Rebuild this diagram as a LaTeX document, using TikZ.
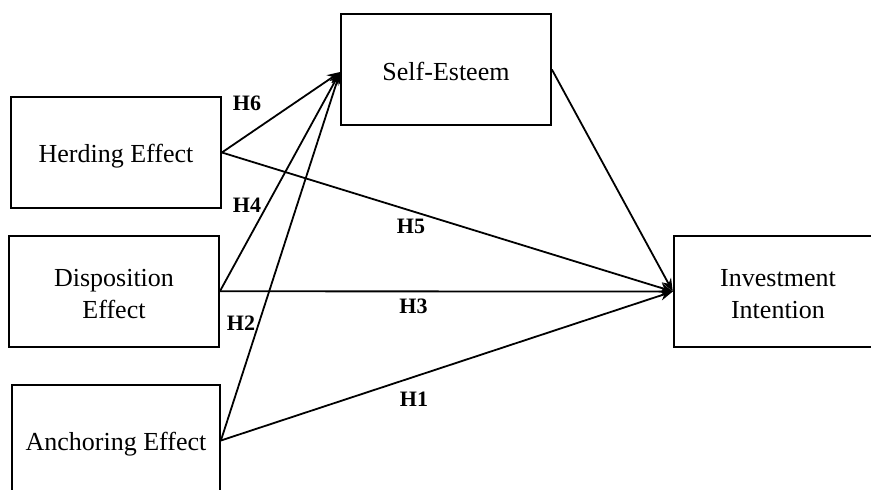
\documentclass[tikz,border=0pt]{standalone}
\usepackage{fontspec}
\setmainfont{Liberation Serif}
\usetikzlibrary{arrows.meta}
\begin{document}
\begin{tikzpicture}[x=1pt,y=-1pt,
  box/.style={draw,line width=1.8pt,minimum width=210pt,minimum height=111pt,inner sep=0pt},
  txt/.style={anchor=base,inner sep=0pt,align=center,font=\fontsize{26}{31.6}\selectfont},
  conn/.style={line width=1.8pt,-{Stealth[length=13pt,width=10pt]}},
  hlab/.style={anchor=base,inner sep=0pt,font=\fontsize{22}{26}\selectfont\bfseries}]
\useasboundingbox (0,0) rectangle (871,490);
\clip (0,0) rectangle (871,490);
\fill[white] (0,0) rectangle (871,490);
\node[box] (he) at (116,152.5) {};
\node[box] (se) at (446,69.5) {};
\node[box] (de) at (114,291.3) {};
\node[box,minimum width=208pt] (ae) at (116,440.5) {};
\node[box] (ii) at (778.7,291.5) {};
\node[txt] (het) at (116,162.7) {Herding Effect};
\node[txt] (set) at (446,80) {Self-Esteem};
\node[txt] (det) at (114,318.3) {Disposition\\Effect};
\node[txt] (aet) at (116,450) {Anchoring Effect};
\node[txt] (iit) at (778,318.3) {Investment\\Intention};
\coordinate (sein) at ([yshift=-2.5pt]se.west);
\draw[conn] (he.east) -- (sein);
\draw[conn] (de.east) -- (sein);
\draw[conn] (ae.east) -- (sein);
\draw[conn] (he.east) -- (ii.west);
\draw[conn] (de.east) -- (ii.west);
\draw[conn] (ae.east) -- (ii.west);
\draw[conn] (se.east) -- (ii.west);
\node[hlab] (h6) at (247,110) {H6};
\node[hlab] (h4) at (247,212.3) {H4};
\node[hlab] (h5) at (411,233.3) {H5};
\node[hlab] (h3) at (413.5,313.3) {H3};
\node[hlab] (h2) at (241,330) {H2};
\node[hlab] (h1) at (414,406.7) {H1};
\end{tikzpicture}
\end{document}
